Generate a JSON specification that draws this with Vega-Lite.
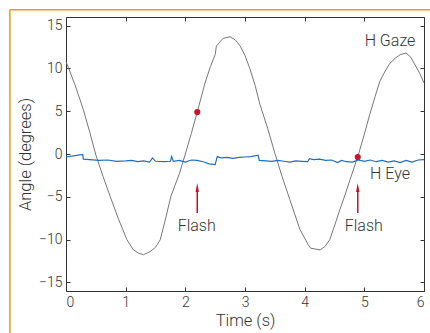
{
  "$schema": "https://vega.github.io/schema/vega-lite/v6.json",
  "width": 358,
  "height": 274,
  "autosize": {"type": "none"},
  "padding": {"left": 66, "top": 17, "right": 6, "bottom": 42},
  "config": {
    "view": {"stroke": null},
    "font": "Roboto",
    "axis": {
      "grid": false,
      "domainColor": "#333333",
      "domainWidth": 1,
      "tickColor": "#333333",
      "tickSize": -4,
      "tickWidth": 1,
      "labelFont": "Roboto",
      "labelFontWeight": 300,
      "labelFontSize": 14,
      "labelColor": "#333333",
      "titleFont": "Roboto",
      "titleFontWeight": 300,
      "titleFontSize": 16.5,
      "titleColor": "#333333"
    }
  },
  "datasets": {
    "gaze": [
      {"t": 0.0, "v": 10.8}, {"t": 0.15, "v": 8.1}, {"t": 0.29, "v": 5.2}, {"t": 0.4, "v": 2.5},
      {"t": 0.5, "v": -0.1}, {"t": 0.62, "v": -2.6}, {"t": 0.74, "v": -4.95}, {"t": 0.88, "v": -7.6},
      {"t": 1.02, "v": -10.0}, {"t": 1.13, "v": -11.2}, {"t": 1.22, "v": -11.6}, {"t": 1.3, "v": -11.76},
      {"t": 1.41, "v": -11.4}, {"t": 1.5, "v": -10.9}, {"t": 1.58, "v": -10.0}, {"t": 1.66, "v": -7.8},
      {"t": 1.76, "v": -4.9}, {"t": 1.9, "v": -2.3}, {"t": 2.0, "v": 0.0}, {"t": 2.1, "v": 2.4},
      {"t": 2.2, "v": 4.9}, {"t": 2.33, "v": 8.3}, {"t": 2.42, "v": 10.2}, {"t": 2.5, "v": 11.6}, {"t": 2.52, "v": 12.6},
      {"t": 2.63, "v": 13.5}, {"t": 2.75, "v": 13.7}, {"t": 2.84, "v": 13.3}, {"t": 2.92, "v": 12.6},
      {"t": 3.0, "v": 11.5}, {"t": 3.08, "v": 10.0}, {"t": 3.17, "v": 8.0}, {"t": 3.25, "v": 5.8},
      {"t": 3.38, "v": 3.0}, {"t": 3.5, "v": 0.1}, {"t": 3.62, "v": -2.6}, {"t": 3.75, "v": -5.3},
      {"t": 3.92, "v": -8.8}, {"t": 4.06, "v": -10.6}, {"t": 4.1, "v": -11.0}, {"t": 4.18, "v": -11.1},
      {"t": 4.26, "v": -11.2}, {"t": 4.34, "v": -10.8}, {"t": 4.42, "v": -10.0}, {"t": 4.5, "v": -8.4},
      {"t": 4.59, "v": -6.5}, {"t": 4.68, "v": -4.7}, {"t": 4.76, "v": -3.0}, {"t": 4.9, "v": -0.1},
      {"t": 5.0, "v": 2.3}, {"t": 5.09, "v": 4.6}, {"t": 5.18, "v": 6.7}, {"t": 5.26, "v": 8.5},
      {"t": 5.35, "v": 9.7}, {"t": 5.43, "v": 10.6}, {"t": 5.52, "v": 11.2}, {"t": 5.6, "v": 11.6},
      {"t": 5.7, "v": 11.8}, {"t": 5.78, "v": 11.3}, {"t": 5.85, "v": 10.4}, {"t": 5.93, "v": 9.4},
      {"t": 6.0, "v": 8.3}
    ],
    "eye": [
      {"t": 0.0, "v": -0.35}, {"t": 0.15, "v": -0.2}, {"t": 0.28, "v": -0.05}, {"t": 0.29, "v": -0.6},
      {"t": 0.4, "v": -0.65}, {"t": 0.55, "v": -0.75}, {"t": 0.7, "v": -0.7}, {"t": 0.85, "v": -0.85},
      {"t": 1.0, "v": -0.8}, {"t": 1.1, "v": -0.75}, {"t": 1.2, "v": -0.9}, {"t": 1.3, "v": -0.8},
      {"t": 1.4, "v": -0.95}, {"t": 1.45, "v": -0.45}, {"t": 1.5, "v": -0.85}, {"t": 1.65, "v": -0.9},
      {"t": 1.75, "v": -0.85}, {"t": 1.77, "v": -0.3}, {"t": 1.8, "v": -0.85}, {"t": 1.9, "v": -0.75},
      {"t": 2.0, "v": -0.95}, {"t": 2.1, "v": -0.7}, {"t": 2.2, "v": -0.75}, {"t": 2.3, "v": -0.9},
      {"t": 2.4, "v": -1.15}, {"t": 2.5, "v": -1.25}, {"t": 2.535, "v": -0.3}, {"t": 2.6, "v": -0.45},
      {"t": 2.7, "v": -0.4}, {"t": 2.8, "v": -0.5}, {"t": 2.9, "v": -0.4}, {"t": 3.0, "v": -0.35},
      {"t": 3.1, "v": -0.3}, {"t": 3.22, "v": -0.15}, {"t": 3.24, "v": -0.75}, {"t": 3.35, "v": -0.8},
      {"t": 3.45, "v": -0.85}, {"t": 3.55, "v": -0.75}, {"t": 3.65, "v": -0.85}, {"t": 3.75, "v": -0.95},
      {"t": 3.85, "v": -0.8}, {"t": 3.95, "v": -0.85}, {"t": 4.05, "v": -0.9}, {"t": 4.08, "v": -0.55},
      {"t": 4.15, "v": -0.65}, {"t": 4.25, "v": -0.6}, {"t": 4.35, "v": -0.75}, {"t": 4.45, "v": -0.7},
      {"t": 4.55, "v": -1.0}, {"t": 4.62, "v": -0.75}, {"t": 4.7, "v": -0.9}, {"t": 4.8, "v": -0.95},
      {"t": 4.9, "v": -0.7}, {"t": 5.0, "v": -0.85}, {"t": 5.1, "v": -0.7}, {"t": 5.2, "v": -0.9},
      {"t": 5.3, "v": -0.75}, {"t": 5.4, "v": -0.95}, {"t": 5.5, "v": -0.8}, {"t": 5.6, "v": -1.0},
      {"t": 5.7, "v": -0.75}, {"t": 5.8, "v": -0.95}, {"t": 5.9, "v": -0.7}, {"t": 6.0, "v": -0.65}
    ],
    "flash": [
      {"t": 2.2, "dot": 4.9, "y0": -6.9, "y1": -4.3, "head": -3.91, "label": "Flash", "lt": 2.19, "ly": -8.96},
      {"t": 4.89, "dot": -0.35, "y0": -6.9, "y1": -4.3, "head": -3.91, "label": "Flash", "lt": 4.99, "ly": -8.96}
    ],
    "labels": [
      {"t": 5.43, "v": 12.57, "label": "H Gaze"},
      {"t": 5.43, "v": -2.94, "label": "H Eye"}
    ],
    "frame": [
      {"x": -0.94, "x2": 6.2, "y": 16.86, "y2": 16.86},
      {"x": -0.94, "x2": -0.94, "y": 16.86, "y2": -22}
    ]
  },
  "layer": [
    {
      "data": {"name": "gaze"},
      "mark": {"type": "line", "color": "#777777", "strokeWidth": 1},
      "encoding": {
        "x": {"field": "t", "type": "quantitative", "scale": {"domain": [0, 6], "nice": false},
              "axis": {"orient": "bottom", "values": [0, 1, 2, 3, 4, 5, 6], "title": "Time (s)", "labelPadding": 8, "titlePadding": 3}},
        "y": {"field": "v", "type": "quantitative", "scale": {"domain": [-16, 16], "nice": false},
              "axis": {"orient": "left", "values": [-15, -10, -5, 0, 5, 10, 15], "title": "Angle (degrees)", "labelPadding": 8, "titlePadding": 5}}
      }
    },
    {
      "data": {"name": "eye"},
      "mark": {"type": "line", "color": "#1f6fbf", "strokeWidth": 1.2},
      "encoding": {
        "x": {"field": "t", "type": "quantitative",
              "axis": {"orient": "top", "values": [0, 1, 2, 3, 4, 5, 6], "labels": false, "title": null}},
        "y": {"field": "v", "type": "quantitative",
              "axis": {"orient": "right", "values": [-15, -10, -5, 0, 5, 10, 15], "labels": false, "title": null}}
      }
    },
    {
      "data": {"name": "flash"},
      "mark": {"type": "rule", "color": "#c8102e", "strokeWidth": 1.5},
      "encoding": {
        "x": {"field": "t", "type": "quantitative", "axis": null},
        "y": {"field": "y0", "type": "quantitative", "axis": null},
        "y2": {"field": "y1"}
      }
    },
    {
      "data": {"name": "flash"},
      "mark": {"type": "point", "shape": "M0,-1L0.38,1L-0.38,1Z", "filled": true, "color": "#c8102e", "size": 81, "opacity": 1},
      "encoding": {
        "x": {"field": "t", "type": "quantitative", "axis": null},
        "y": {"field": "head", "type": "quantitative", "axis": null}
      }
    },
    {
      "data": {"name": "flash"},
      "mark": {"type": "point", "shape": "circle", "filled": true, "color": "#cc1426", "size": 38, "opacity": 1},
      "encoding": {
        "x": {"field": "t", "type": "quantitative", "axis": null},
        "y": {"field": "dot", "type": "quantitative", "axis": null}
      }
    },
    {
      "data": {"name": "flash"},
      "mark": {"type": "text", "font": "Roboto", "fontWeight": 300, "fontSize": 16, "color": "#333333", "align": "center", "baseline": "alphabetic"},
      "encoding": {
        "x": {"field": "lt", "type": "quantitative", "axis": null},
        "y": {"field": "ly", "type": "quantitative", "axis": null},
        "text": {"field": "label"}
      }
    },
    {
      "data": {"name": "labels"},
      "mark": {"type": "text", "font": "Roboto", "fontWeight": 300, "fontSize": 16, "color": "#333333", "align": "center", "baseline": "alphabetic"},
      "encoding": {
        "x": {"field": "t", "type": "quantitative", "axis": null},
        "y": {"field": "v", "type": "quantitative", "axis": null},
        "text": {"field": "label"}
      }
    },
    {
      "data": {"name": "frame"},
      "mark": {"type": "rule", "color": "#f7941d", "strokeWidth": 1.5, "clip": false},
      "encoding": {
        "x": {"field": "x", "type": "quantitative", "axis": null},
        "x2": {"field": "x2"},
        "y": {"field": "y", "type": "quantitative", "axis": null},
        "y2": {"field": "y2"}
      }
    }
  ],
  "resolve": {"axis": {"x": "independent", "y": "independent"}}
}
